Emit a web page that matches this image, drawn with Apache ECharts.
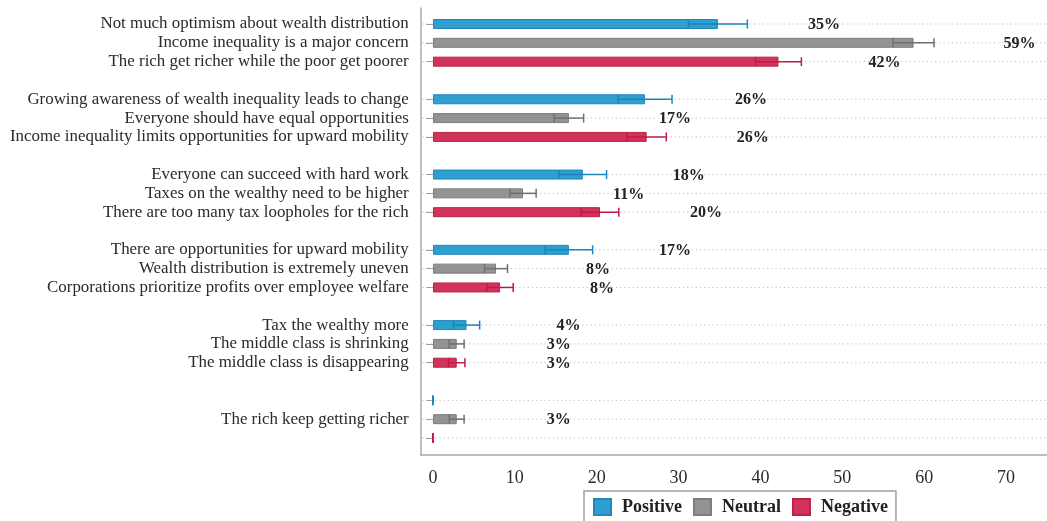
<!DOCTYPE html>
<html>
<head>
<meta charset="utf-8">
<script src="https://cdn.jsdelivr.net/npm/echarts@6/dist/echarts.min.js"></script>
<style>
html,body{margin:0;padding:0;background:#fff;}
#chart{width:1047px;height:521px;}
</style>
</head>
<body>
<div id="chart"></div>
<script>
// ---- data (top to bottom) ----
const rowLabels = [
  'Not much optimism about wealth distribution',
  'Income inequality is a major concern',
  'The rich get richer while the poor get poorer',
  'Growing awareness of wealth inequality leads to change',
  'Everyone should have equal opportunities',
  'Income inequality limits opportunities for upward mobility',
  'Everyone can succeed with hard work',
  'Taxes on the wealthy need to be higher',
  'There are too many tax loopholes for the rich',
  'There are opportunities for upward mobility',
  'Wealth distribution is extremely uneven',
  'Corporations prioritize profits over employee welfare',
  'Tax the wealthy more',
  'The middle class is shrinking',
  'The middle class is disappearing',
  '',
  'The rich keep getting richer',
  ''
];
const sentimentNames = ['Positive', 'Neutral', 'Negative'];
const values = [34.8, 58.7, 42.2, 25.9, 16.6, 26.1, 18.3, 11.0, 20.4, 16.6, 7.7, 8.2, 4.1, 2.9, 2.9, 0, 2.9, 0];
const errors = [3.6, 2.5, 2.8, 3.3, 1.8, 2.4, 2.9, 1.6, 2.3, 2.9, 1.4, 1.6, 1.6, 0.9, 1.0, 0, 0.9, 0];
const pctLabels = ['35%', '59%', '42%', '26%', '17%', '26%', '18%', '11%', '20%', '17%', '8%', '8%', '4%', '3%', '3%', '', '3%', ''];
const xTicks = [0, 10, 20, 30, 40, 50, 60, 70];

// ---- styles ----
const fillColors = ['#2f9fcf', '#939393', '#d1335b'];
const edgeColors = ['#2088bb', '#7d7d7d', '#bb2249'];
const errColors = ['#1a86bd', '#6f6f6f', '#c11a44'];
const SERIF = '"Liberation Serif", "DejaVu Serif", serif';

// build slot layout: groups of 3 rows with one blank slot between groups
const slotRow = [];
for (let i = 0; i < rowLabels.length; i++) {
  if (i > 0 && i % 3 === 0) slotRow.push(-1);
  slotRow.push(i);
}
const slotNames = slotRow.map((r, i) => 's' + i);
const rowSlot = [];
slotRow.forEach((r, s) => { if (r >= 0) rowSlot[r] = s; });

const XMIN = -1.5, XMAX = 75;

const barSeries = sentimentNames.map((name, k) => ({
  name: name,
  type: 'bar',
  xAxisIndex: 1,
  yAxisIndex: 1,
  barWidth: 10,
  barGap: '-100%',
  z: 2,
  itemStyle: { color: fillColors[k], borderColor: edgeColors[k], borderWidth: 1 },
  label: {
    show: true,
    position: 'right',
    distance: 90,
    offset: [0, 1],
    fontFamily: SERIF,
    fontWeight: 'bold',
    fontSize: 16,
    color: '#222',
    formatter: p => { const r = slotRow[p.dataIndex]; return r >= 0 ? pctLabels[r] : ''; }
  },
  data: slotRow.map(r => (r >= 0 && r % 3 === k) ? values[r] : '-')
}));

const errData = rowLabels.map((_, r) => [values[r] - errors[r], values[r] + errors[r], rowSlot[r], r % 3]);
const gridData = rowLabels.map((_, r) => [0, rowSlot[r]]);

const option = {
  backgroundColor: '#fff',
  animation: false,
  grid: [
    { left: 420.7, top: 8, width: 627.3, height: 447, containLabel: false },
    { left: 420.7, top: 14.6, width: 627.3, height: 432.8, containLabel: false }
  ],
  xAxis: [
    {
      type: 'value', gridIndex: 0, min: XMIN, max: XMAX,
      axisLine: { show: true, onZero: false, lineStyle: { color: '#a8a8a8', width: 1.5 } },
      axisTick: { show: false },
      splitLine: { show: false },
      axisLabel: { customValues: xTicks, fontFamily: SERIF, fontSize: 18, color: '#2a2a2a', margin: 14 }
    },
    {
      type: 'value', gridIndex: 1, min: XMIN, max: XMAX, show: false
    }
  ],
  yAxis: [
    {
      type: 'value', gridIndex: 0, min: 0, max: 1,
      axisLine: { show: true, onZero: false, lineStyle: { color: '#a8a8a8', width: 1.5 } },
      axisTick: { show: false }, axisLabel: { show: false }, splitLine: { show: false }
    },
    {
      type: 'category', gridIndex: 1, inverse: true, data: slotNames,
      axisLine: { show: false },
      axisTick: {
        show: true, alignWithLabel: true, length: 7, inside: false,
        interval: (idx) => slotRow[idx] >= 0,
        lineStyle: { color: '#999', width: 1 }
      },
      axisLabel: {
        interval: 0, margin: 12, fontFamily: SERIF, fontSize: 16.9, color: '#2a2a2a',
        padding: [4, 0, 0, 0],
        formatter: (v, idx) => { const r = slotRow[idx]; return r >= 0 ? rowLabels[r] : ''; }
      },
      splitLine: { show: false }
    }
  ],
  legend: {
    data: sentimentNames,
    left: 584, top: 491,
    orient: 'horizontal',
    icon: 'rect',
    itemWidth: 17, itemHeight: 16, itemGap: 11,
    padding: [7, 8, 7, 9],
    borderColor: '#a0a0a0', borderWidth: 1.5,
    backgroundColor: '#fff',
    textStyle: { fontFamily: SERIF, fontWeight: 'bold', fontSize: 18, color: '#222', padding: [0, 0, 0, 6] }
  },
  series: [
    {
      type: 'custom', name: 'gridlines', xAxisIndex: 1, yAxisIndex: 1, z: 1, silent: true,
      encode: { x: 0, y: 1 },
      renderItem: (params, api) => {
        const y = api.coord([0, api.value(1)])[1];
        const cs = params.coordSys;
        return { type: 'line', shape: { x1: cs.x + 2, y1: y, x2: cs.x + cs.width, y2: y },
          style: { stroke: '#bdbdbd', lineWidth: 1, lineDash: [1.2, 3] } };
      },
      data: gridData
    },
    ...barSeries,
    {
      type: 'custom', name: 'errors', xAxisIndex: 1, yAxisIndex: 1, z: 3, silent: true,
      encode: { x: [0, 1], y: 2 },
      renderItem: (params, api) => {
        const lo = api.coord([api.value(0), api.value(2)]);
        const hi = api.coord([api.value(1), api.value(2)]);
        const col = errColors[api.value(3)];
        const h = 4.5;
        const st = { stroke: col, lineWidth: 1.5 };
        return { type: 'group', children: [
          { type: 'line', shape: { x1: lo[0], y1: lo[1], x2: hi[0], y2: hi[1] }, style: st },
          { type: 'line', shape: { x1: lo[0], y1: lo[1] - h, x2: lo[0], y2: lo[1] + h }, style: st },
          { type: 'line', shape: { x1: hi[0], y1: hi[1] - h, x2: hi[0], y2: hi[1] + h }, style: st }
        ] };
      },
      data: errData
    }
  ]
};

const chart = echarts.init(document.getElementById('chart'), null, { renderer: 'canvas' });
chart.setOption(option);
</script>
</body>
</html>
